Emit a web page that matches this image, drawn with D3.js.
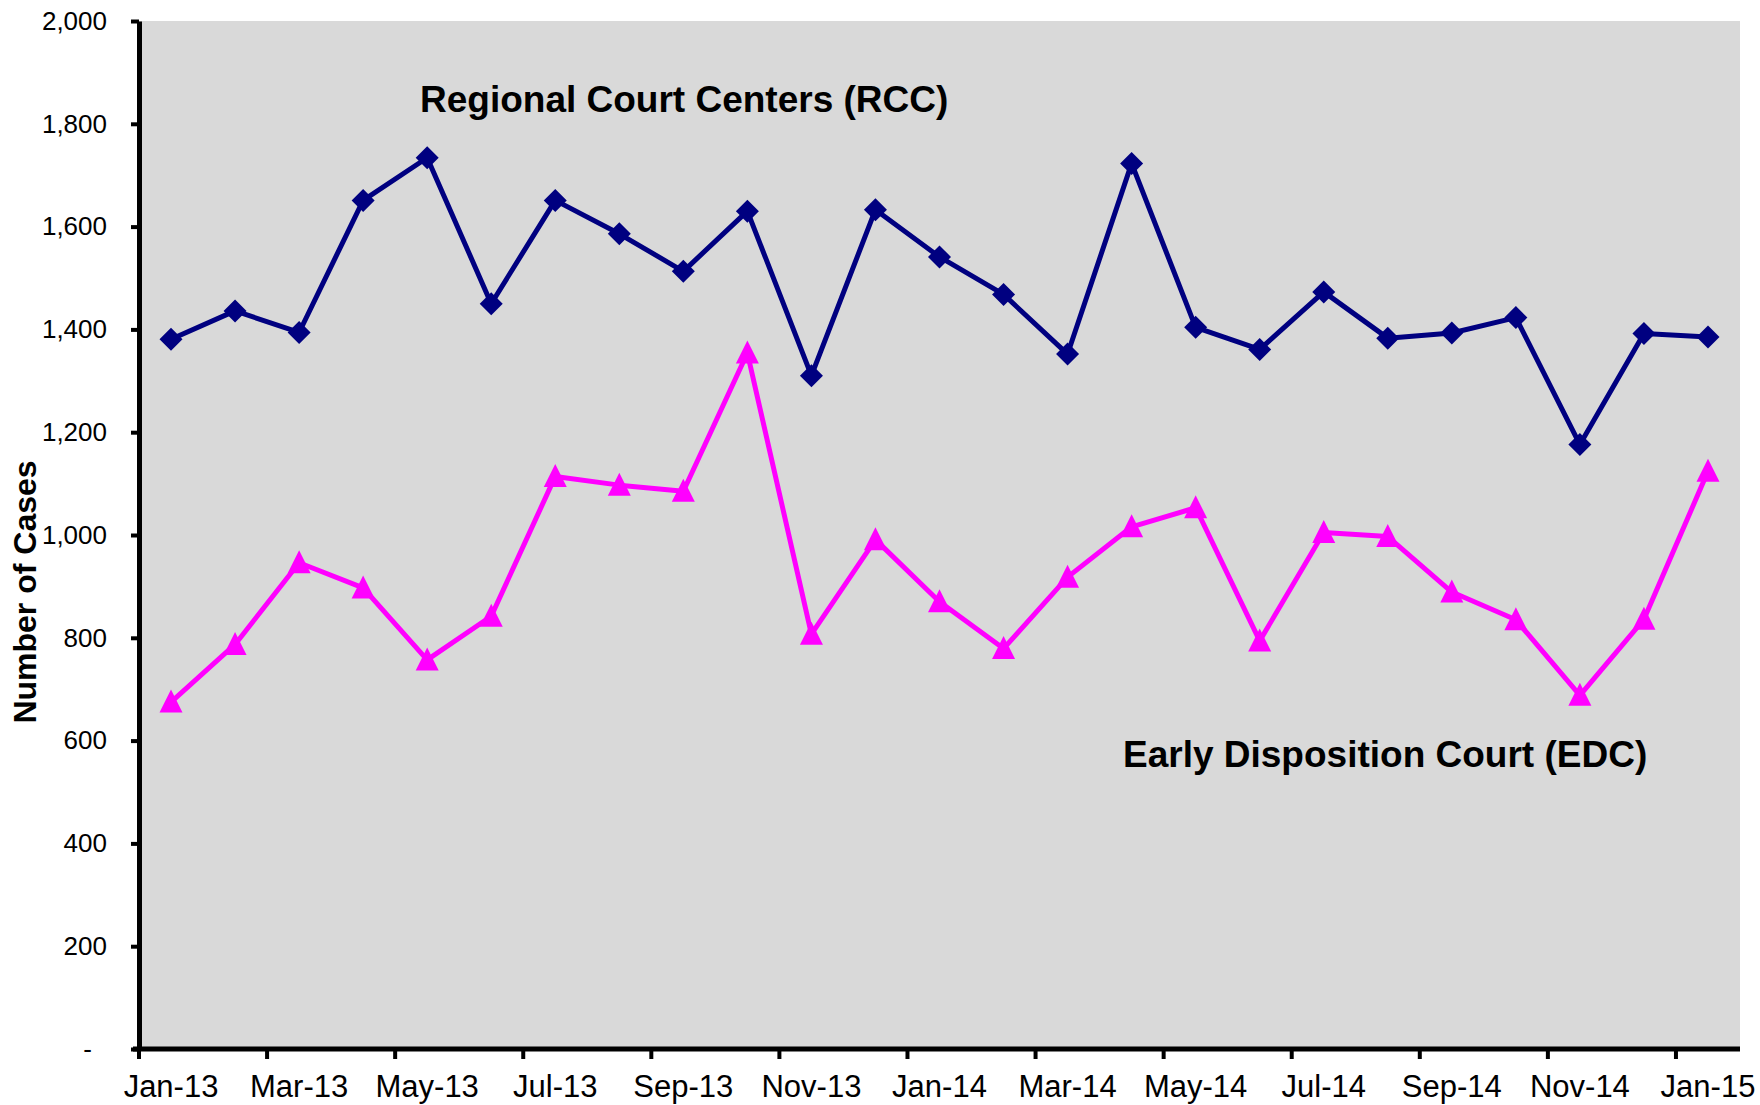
<!DOCTYPE html>
<html>
<head>
<meta charset="utf-8">
<script src="https://cdn.jsdelivr.net/npm/d3@7"></script>
<style>
  body { margin: 0; background: #fff; }
  svg { display: block; font-family: Arial, "Liberation Sans", sans-serif; }
</style>
</head>
<body>
<svg id="chart" width="1760" height="1105"></svg>
<script>
var months = ["Jan-13", "Feb-13", "Mar-13", "Apr-13", "May-13", "Jun-13", "Jul-13", "Aug-13",
  "Sep-13", "Oct-13", "Nov-13", "Dec-13", "Jan-14", "Feb-14", "Mar-14", "Apr-14", "May-14",
  "Jun-14", "Jul-14", "Aug-14", "Sep-14", "Oct-14", "Nov-14", "Dec-14", "Jan-15"];
var rcc = [1381, 1436, 1394, 1651, 1734, 1450, 1651, 1586, 1513, 1630, 1310, 1633, 1541,
  1468, 1352, 1723, 1404, 1361, 1473, 1383, 1393, 1423, 1176, 1392, 1385];
var edc = [675, 787, 946, 897, 757, 842, 1114, 1097, 1085, 1354, 807, 991, 870,
  779, 918, 1016, 1053, 794, 1005, 997, 889, 835, 688, 836, 1124];
var yTicks = [0, 200, 400, 600, 800, 1000, 1200, 1400, 1600, 1800, 2000];
var xTickLabels = months.filter(function(d, i) { return i % 2 == 0; });
var rccLabel = "Regional Court Centers (RCC)";
var edcLabel = "Early Disposition Court (EDC)";

var plotL = 139, plotR = 1740, plotT = 21, plotB = 1049;

var svg = d3.select("#chart");

var x = d3.scaleBand()
    .domain(months)
    .range([plotL, plotR])
    .padding(0);
var bw = x.bandwidth();
var y = d3.scaleLinear()
    .domain([0, 2000])
    .range([plotB, plotT]);

svg.append("rect")
    .attr("x", plotL)
    .attr("y", plotT)
    .attr("width", plotR - plotL)
    .attr("height", plotB - plotT)
    .style("fill", "#d9d9d9");

// y axis
var yAxis = svg.append("g")
    .attr("transform", "translate(" + plotL + ",0)")
    .call(d3.axisLeft(y)
      .tickValues(yTicks)
      .tickSize(8)
      .tickSizeOuter(0)
      .tickPadding(24)
      .tickFormat(function(d) { return d == 0 ? "-" : d3.format(",")(d); }));
yAxis.select(".domain").style("stroke", "#000").style("stroke-width", 5);
yAxis.selectAll(".tick line").style("stroke", "#000").style("stroke-width", 4);
yAxis.selectAll(".tick text")
    .style("font-size", "26px")
    .style("fill", "#000")
    .attr("dx", function(d) { return d == 0 ? -15 : 0; });

// x axis
var xAxis = svg.append("g")
    .attr("transform", "translate(0," + plotB + ")")
    .call(d3.axisBottom(x)
      .tickValues(xTickLabels)
      .tickSize(10)
      .tickSizeOuter(0)
      .tickPadding(16));
xAxis.select(".domain")
    .attr("d", "M" + (plotL - 6) + ",0H" + plotR)
    .style("stroke", "#000").style("stroke-width", 5);
xAxis.selectAll(".tick line")
    .attr("x1", -bw / 2)
    .attr("x2", -bw / 2)
    .style("stroke", "#000").style("stroke-width", 4);
xAxis.selectAll(".tick text")
    .style("font-size", "31px")
    .style("fill", "#000");

svg.append("text")
    .attr("transform", "translate(36,592) rotate(-90)")
    .attr("text-anchor", "middle")
    .style("font-size", "32px")
    .style("font-weight", "bold")
    .text("Number of Cases");

var line = d3.line()
    .x(function(d, i) { return x(months[i]) + bw / 2; })
    .y(function(d) { return y(d); });

svg.append("path")
    .datum(rcc)
    .attr("d", line)
    .style("fill", "none")
    .style("stroke", "#000080")
    .style("stroke-width", 5)
    .style("stroke-linejoin", "round");

svg.append("path")
    .datum(edc)
    .attr("d", line)
    .style("fill", "none")
    .style("stroke", "#ff00ff")
    .style("stroke-width", 5)
    .style("stroke-linejoin", "round");

var dia = 11.5;
svg.append("g").selectAll("path")
    .data(rcc)
    .join("path")
    .attr("transform", function(d, i) { return "translate(" + (x(months[i]) + bw / 2) + "," + y(d) + ")"; })
    .attr("d", "M0," + (-dia) + "L" + dia + ",0L0," + dia + "L" + (-dia) + ",0Z")
    .style("fill", "#000080");

var tri = 11.5;
svg.append("g").selectAll("path")
    .data(edc)
    .join("path")
    .attr("transform", function(d, i) { return "translate(" + (x(months[i]) + bw / 2) + "," + y(d) + ")"; })
    .attr("d", "M0," + (-tri - 1) + "L" + tri + "," + (tri - 1) + "L" + (-tri) + "," + (tri - 1) + "Z")
    .style("fill", "#ff00ff");

svg.append("text")
    .attr("x", 420)
    .attr("y", 112)
    .style("font-size", "37px")
    .style("font-weight", "bold")
    .text(rccLabel);

svg.append("text")
    .attr("x", 1123)
    .attr("y", 767)
    .style("font-size", "37px")
    .style("font-weight", "bold")
    .text(edcLabel);
</script>
</body>
</html>
